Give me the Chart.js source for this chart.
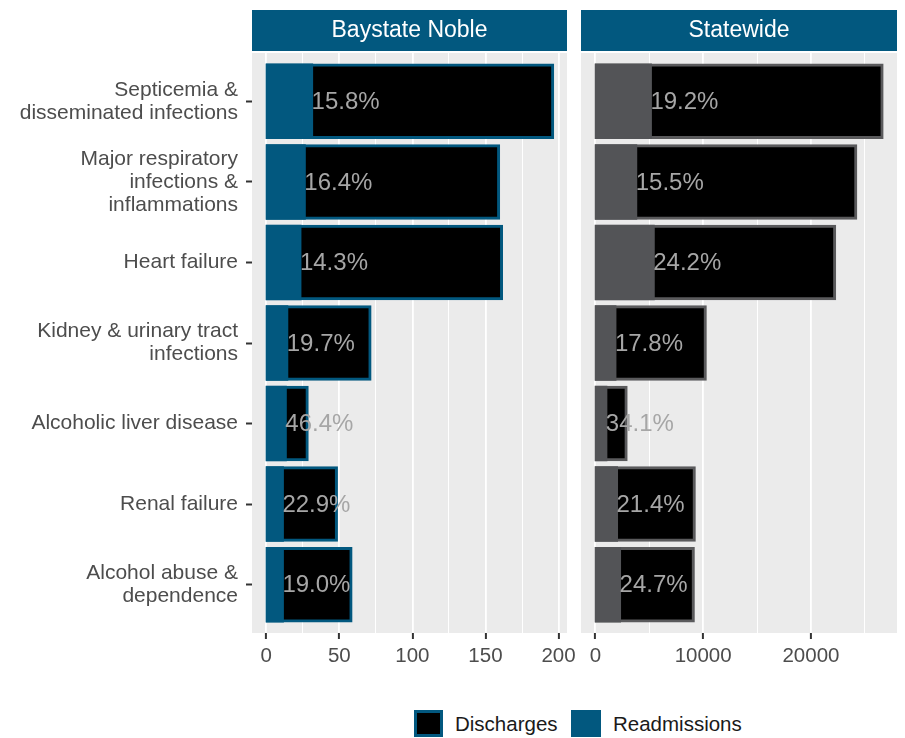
<!DOCTYPE html>
<html>
<head>
<meta charset="utf-8">
<script src="https://cdn.jsdelivr.net/npm/chart.js"></script>
<style>
  body { margin: 0; background: #fff; }
  #wrap { position: relative; width: 905px; height: 738px; font-family: "Liberation Sans", Arial, sans-serif; }
  canvas { position: absolute; top: 0; }
  #left { left: 0; }
  #right { left: 575px; }
  .key { position: absolute; top: 710px; height: 27px; box-sizing: border-box; }
  .lab { position: absolute; top: 711px; font-size: 20.5px; line-height: 25px; color: #1a1a1a; }
</style>
</head>
<body>
<div id="wrap">
  <canvas id="left" width="575" height="690"></canvas>
  <canvas id="right" width="330" height="690"></canvas>
  <div class="key" style="left:414px;width:29px;background:#000;border:3px solid #02587f"></div>
  <div class="lab" style="left:455px">Discharges</div>
  <div class="key" style="left:571px;width:30px;background:#02587f"></div>
  <div class="lab" style="left:613px">Readmissions</div>
</div>
<script>
const categories = [
  ['Septicemia &', 'disseminated infections'],
  ['Major respiratory', 'infections &', 'inflammations'],
  'Heart failure',
  ['Kidney & urinary tract', 'infections'],
  'Alcoholic liver disease',
  'Renal failure',
  ['Alcohol abuse &', 'dependence']
];

const nobleDischarges = [196, 159, 161, 71, 28, 48, 58];
const nobleReadmissions = [31, 26, 23, 14, 13, 11, 11];
const noblePct = ['15.8%', '16.4%', '14.3%', '19.7%', '46.4%', '22.9%', '19.0%'];

const stateDischarges = [26600, 24160, 22200, 10200, 2860, 9180, 9090];
const stateReadmissions = [5107, 3745, 5372, 1816, 975, 1965, 2245];
const statePct = ['19.2%', '15.5%', '24.2%', '17.8%', '34.1%', '21.4%', '24.7%'];

const nobleTicks = [0, 25, 50, 75, 100, 125, 150, 175, 200];
const nobleTickLabels = [0, 50, 100, 150, 200];
const stateTicks = [0, 5000, 10000, 15000, 20000, 25000];
const stateTickLabels = [0, 10000, 20000];

const BLUE = '#02587f';
const FONT = '"Liberation Sans", Arial, sans-serif';

// gray panel + blue strip on top
const panelBg = {
  id: 'panelBg',
  beforeDraw(chart, args, opts) {
    const { ctx, chartArea: a } = chart;
    ctx.save();
    ctx.fillStyle = '#ebebeb';
    ctx.fillRect(a.left, a.top, a.right - a.left, a.bottom - a.top);
    ctx.fillStyle = BLUE;
    ctx.fillRect(a.left, 10, a.right - a.left, 41);
    ctx.fillStyle = '#fff';
    ctx.font = '23px ' + FONT;
    ctx.textAlign = 'center';
    ctx.textBaseline = 'middle';
    ctx.fillText(opts.title, (a.left + a.right) / 2, 31);
    ctx.restore();
  }
};

// percent labels, left edge at readmissions value
const pctLabels = {
  id: 'pctLabels',
  afterDatasetsDraw(chart, args, opts) {
    const { ctx, scales } = chart;
    ctx.save();
    ctx.fillStyle = '#a6a6a6';
    ctx.font = '24px ' + FONT;
    ctx.textAlign = 'left';
    ctx.textBaseline = 'middle';
    opts.texts.forEach((t, i) => {
      ctx.fillText(t, scales.x.getPixelForValue(opts.values[i]), scales.y.getPixelForValue(i + 1) + 1);
    });
    ctx.restore();
  }
};

function makePanel(id, title, discharges, readmissions, pct, readColor, borderColor, xMin, xMax, ticks, tickLabels, showY) {
  const ctx = document.getElementById(id).getContext('2d');
  return new Chart(ctx, {
    type: 'bar',
    data: {
      datasets: [
        {
          label: 'Readmissions',
          data: readmissions.map((v, i) => ({ x: v, y: i + 1 })),
          backgroundColor: readColor,
          borderWidth: 0,
          inflateAmount: 1.5
        },
        {
          label: 'Discharges',
          data: discharges.map((v, i) => ({ x: v, y: i + 1 })),
          backgroundColor: '#000',
          borderColor: borderColor,
          borderWidth: 3,
          borderSkipped: false,
          inflateAmount: 1.5
        }
      ]
    },
    options: {
      indexAxis: 'y',
      responsive: false,
      animation: false,
      grouped: false,
      barPercentage: 0.9,
      categoryPercentage: 1,
      layout: { padding: { top: 53, right: 8, left: showY ? 0 : 6, bottom: 0 } },
      plugins: {
        legend: { display: false },
        tooltip: { enabled: false },
        panelBg: { title: title },
        pctLabels: { texts: pct, values: readmissions }
      },
      scales: {
        x: {
          type: 'linear',
          min: xMin,
          max: xMax,
          afterBuildTicks: s => { s.ticks = ticks.map(v => ({ value: v })); },
          afterFit: s => { s.height = 57; s.paddingLeft = 0; s.paddingRight = 0; },
          border: { display: false },
          grid: {
            color: '#fff',
            lineWidth: c => (c.tick && tickLabels.includes(c.tick.value)) ? 1.8 : 1,
            tickLength: 6,
            tickWidth: 2,
            tickColor: c => (c.tick && tickLabels.includes(c.tick.value)) ? '#333' : 'rgba(0,0,0,0)'
          },
          ticks: {
            padding: 5,
            autoSkip: false,
            maxRotation: 0,
            color: '#4d4d4d',
            font: { family: FONT, size: 20.5 },
            callback: v => tickLabels.includes(v) ? String(v) : ''
          }
        },
        y: {
          type: 'linear',
          reverse: true,
          offset: false,
          min: 0.4,
          max: 7.6,
          display: showY,
          afterBuildTicks: s => { s.ticks = categories.map((c, i) => ({ value: i + 1 })); },
          afterFit: s => { s.width = showY ? 252 : 0; s.paddingTop = 0; s.paddingBottom = 0; },
          border: { display: false },
          grid: {
            offset: false,
            drawOnChartArea: false,
            tickLength: 6,
            tickWidth: 2,
            tickColor: '#333'
          },
          ticks: {
            padding: 8,
            autoSkip: false,
            color: '#4d4d4d',
            font: { family: FONT, size: 21, lineHeight: 1.1 },
            callback: v => categories[v - 1]
          }
        }
      }
    },
    plugins: [panelBg, pctLabels]
  });
}

makePanel('left', 'Baystate Noble', nobleDischarges, nobleReadmissions, noblePct,
  BLUE, BLUE, -9.8, 205.8, nobleTicks, nobleTickLabels, true);
makePanel('right', 'Statewide', stateDischarges, stateReadmissions, statePct,
  '#535457', '#5a5a5c', -1330, 27980, stateTicks, stateTickLabels, false);
</script>
</body>
</html>
